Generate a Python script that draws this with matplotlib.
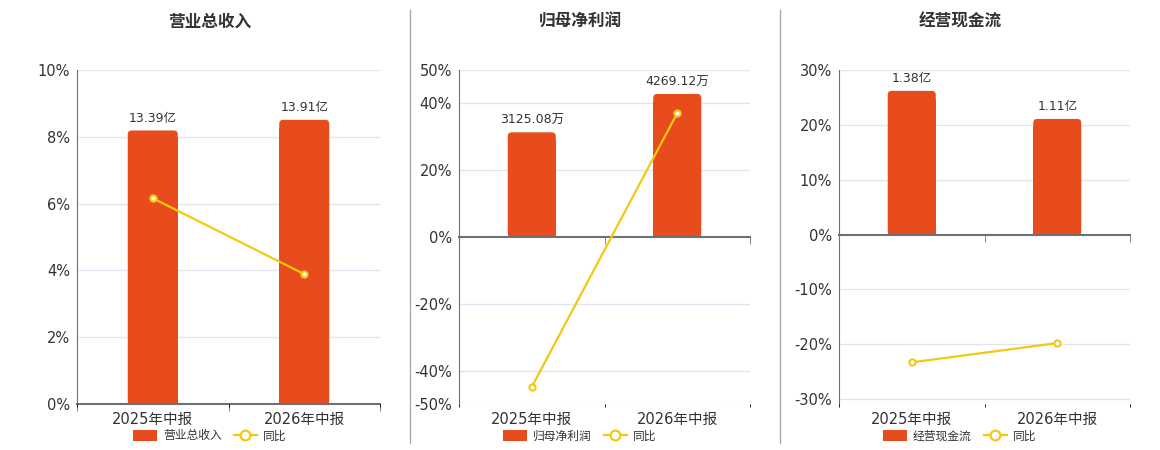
import matplotlib
matplotlib.use("Agg")
import matplotlib.pyplot as plt
from matplotlib.lines import Line2D
from matplotlib.patches import FancyBboxPatch, Patch

plt.rcParams['font.family'] = ['DejaVu Sans', 'Noto Sans CJK SC']
plt.rcParams['text.color'] = '#333333'

# data
periods = ['2025年中报', '2026年中报']
revenue = [13.39, 13.91]          # 亿
revenue_yoy = [6.16, 3.89]        # %
profit = [3125.08, 4269.12]       # 万
profit_yoy = [-44.9, 37.1]        # %
cashflow = [1.38, 1.11]           # 亿
cashflow_yoy = [-23.3, -19.8]     # %

BAR_C = '#E84B1C'
LINE_C = '#F2C811'
GRID_C = '#E0E6F1'
AXIS_C = '#6E7079'

panels = [
    dict(title='营业总收入', bars=revenue, yoy=revenue_yoy, unit='亿',
         pct_lim=(0, 10), ticks=[0, 2, 4, 6, 8, 10], scale=1.635,
         left=77, cx=210),
    dict(title='归母净利润', bars=profit, yoy=profit_yoy, unit='万',
         pct_lim=(-50, 50), ticks=[-50, -40, -20, 0, 20, 40, 50], scale=99.7,
         left=459, cx=580),
    dict(title='经营现金流', bars=cashflow, yoy=cashflow_yoy, unit='亿',
         pct_lim=(-30.9, 30), ticks=[-30, -20, -10, 0, 10, 20, 30], scale=0.05267,
         left=839, cx=960),
]

W, H = 1160, 450
AX_H = 334
fig = plt.figure(figsize=(W / 100, H / 100), dpi=100)

widths = [303, 291, 291]
x = list(range(len(periods)))
bw = 0.33

for p, w in zip(panels, widths):
    ax_b = fig.add_axes([p['left'] / W, 1 - 404 / H, w / W, AX_H / H])
    ax_p = ax_b.twinx()

    lo, hi = p['pct_lim']
    s = p['scale']
    ax_b.set_ylim(lo * s, hi * s)
    ax_p.set_ylim(lo, hi)
    ax_b.set_xlim(-0.5, len(periods) - 0.5)

    # bars on hidden axis
    ax_b.set_axisbelow(True)
    bars = ax_b.bar(x, p['bars'], width=bw, color=BAR_C, zorder=2)
    ax_b.bar_label(bars, labels=[f"{v:.2f}{p['unit']}" for v in p['bars']],
                   padding=4, fontsize=9, color='#333333')

    # rounded top corners (radius ~4 px)
    r = 4 * len(periods) / w
    aspect = ((hi - lo) * s / AX_H) / (len(periods) / w)
    for rect in bars:
        rx, ry = rect.get_x(), rect.get_y()
        rw, rh = rect.get_width(), rect.get_height()
        ax_b.add_patch(FancyBboxPatch((rx, ry), rw, rh,
                                      boxstyle=f"round,pad=0,rounding_size={r}",
                                      mutation_aspect=aspect, fc=BAR_C, ec='none',
                                      zorder=2))
        rect.set_height(rh - 2 * r * aspect)

    # grid at percent tick positions
    ax_b.set_yticks([t * s for t in p['ticks'] if t != 0])
    ax_b.yaxis.grid(True, color=GRID_C, lw=1)
    ax_b.tick_params(axis='y', left=False, labelleft=False)

    for sp in ['top', 'right']:
        ax_b.spines[sp].set_visible(False)
    ax_b.spines['left'].set_color(AXIS_C)
    ax_b.spines['bottom'].set_color(AXIS_C)
    ax_b.spines['bottom'].set_linewidth(1.5)
    ax_b.spines['bottom'].set_position(('data', 0))
    ax_b.set_xticks(x)
    ax_b.set_xticks([-0.5, 0.5, 1.5], minor=True)
    ax_b.tick_params(axis='x', which='major', length=0, labelbottom=False)
    ax_b.tick_params(axis='x', which='minor', length=5, color=AXIS_C, direction='out')

    # percent axis with line
    for sp in ax_p.spines.values():
        sp.set_visible(False)
    ax_p.yaxis.tick_left()
    ax_p.set_yticks(p['ticks'])
    ax_p.set_yticklabels([f"{t}%" for t in p['ticks']])
    ax_p.tick_params(axis='y', length=0, pad=5, labelsize=10.5, labelcolor='#333333')
    ax_p.xaxis.set_visible(True)
    ax_p.set_xticks(x)
    ax_p.set_xticklabels(periods)
    ax_p.tick_params(axis='x', length=0, pad=6, labelsize=10.5, labelcolor='#333333')

    ax_p.plot(x, p['yoy'], color=LINE_C, lw=1.6, marker='o', ms=4.5,
              mfc='white', mec=LINE_C, mew=1.5, clip_on=False, zorder=3)

    fig.text(p['cx'] / W, 1 - 22 / H, p['title'], ha='center', va='center',
             fontsize=12, fontweight='bold', family=['Noto Sans CJK SC', 'DejaVu Sans'])

    handles = [Patch(facecolor=BAR_C, edgecolor='none'),
               Line2D([], [], color=LINE_C, lw=1.6, marker='o', ms=7,
                      mfc='white', mec=LINE_C, mew=1.6)]
    fig.legend(handles, [p['title'], '同比'], loc='center', ncol=2,
               bbox_to_anchor=(p['cx'] / W, 1 - 436 / H), frameon=False,
               prop={'family': ['Noto Sans CJK SC', 'DejaVu Sans'], 'size': 8.5},
               handlelength=2.0, handleheight=1.0, handletextpad=0.5,
               columnspacing=1.0, labelcolor='#333333')

# separators between panels
for sx in [410, 780]:
    fig.add_artist(Line2D([sx / W, sx / W], [1 - 443 / H, 1 - 10 / H],
                          color='#AAAAAA', lw=1))

fig.savefig('out.png', dpi=100)
